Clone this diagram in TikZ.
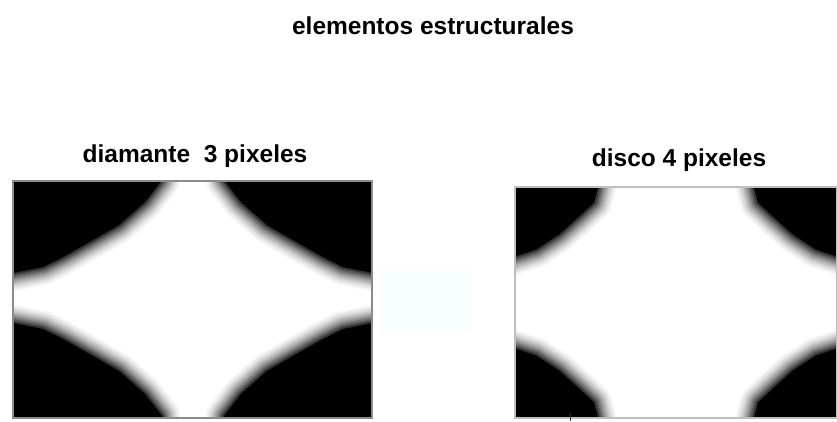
\documentclass[tikz,border=0pt]{standalone}
\usepackage{fontspec}
\setmainfont{Liberation Sans}
\definecolor{tenue}{RGB}{249,254,254}
\begin{document}
\begin{tikzpicture}[x=1pt,y=-1pt,
    rotulo/.style={font=\fontsize{24.5}{28}\selectfont\bfseries, inner sep=0pt, anchor=base},
    marco/.style={draw=black!45, line width=1.2pt}]

  \useasboundingbox (0,0) rectangle (837,421);

  % --- formas de las esquinas (cuadrante sup. izq.) ---
  \def\esqdiamante{(-31,-130) -- (-31,-118) -- (-48,-96) -- (-74,-73) -- (-100,-58)
    -- (-130,-41) -- (-150,-31) -- (-190,-23) -- (-190,-130) -- cycle}
  \def\esqdisco{(-78,-125) -- (-78,-115.5) -- (-82,-100) -- (-97,-86) -- (-117,-68)
    -- (-140,-53) -- (-170,-43) -- (-170,-125) -- cycle}

  % --- titulo ---
  \node[rotulo] (titulo) at (433,34) {elementos estructurales};

  % --- imagen diamante ---
  \node[rotulo] (lbldiamante) at (195,162) {diamante\ \ 3 pixeles};
  \begin{scope}[shift={(193,298)}]
    \clip (-180,-117) rectangle (179.5,120);
    \foreach \sx/\sy in {1/1,-1/1,1/-1,-1/-1} {
      \begin{scope}[xscale=\sx, yscale=\sy]
        \foreach \w/\g in {36/4,32/9,28/15,24/23,20/32,16/42,12/54,8/66,4/80}
          \draw[line width=\w pt, black!\g, line join=round] \esqdiamante;
        \fill[black] \esqdiamante;
      \end{scope}
    }
  \end{scope}
  \draw[marco] (13,181) rectangle (372,418);

  % --- resto tenue entre imagenes ---
  \fill[tenue] (380,270) rectangle (470,332);

  % --- imagen disco ---
  \node[rotulo] (lbldisco) at (679,166) {disco 4 pixeles};
  \begin{scope}[shift={(676,302.5)}]
    \clip (-161,-115.5) rectangle (161,115.5);
    \foreach \sx/\sy in {1/1,-1/1,1/-1,-1/-1} {
      \begin{scope}[xscale=\sx, yscale=\sy]
        \foreach \w/\g in {36/4,32/9,28/15,24/23,20/32,16/42,12/54,8/66,4/80}
          \draw[line width=\w pt, black!\g, line join=round] \esqdisco;
        \fill[black] \esqdisco;
      \end{scope}
    }
  \end{scope}
  \draw[marco, draw=black!25] (515,187) rectangle (837,418);
  \draw[black!80, line width=1pt] (570,413) -- (570,421);

\end{tikzpicture}
\end{document}
